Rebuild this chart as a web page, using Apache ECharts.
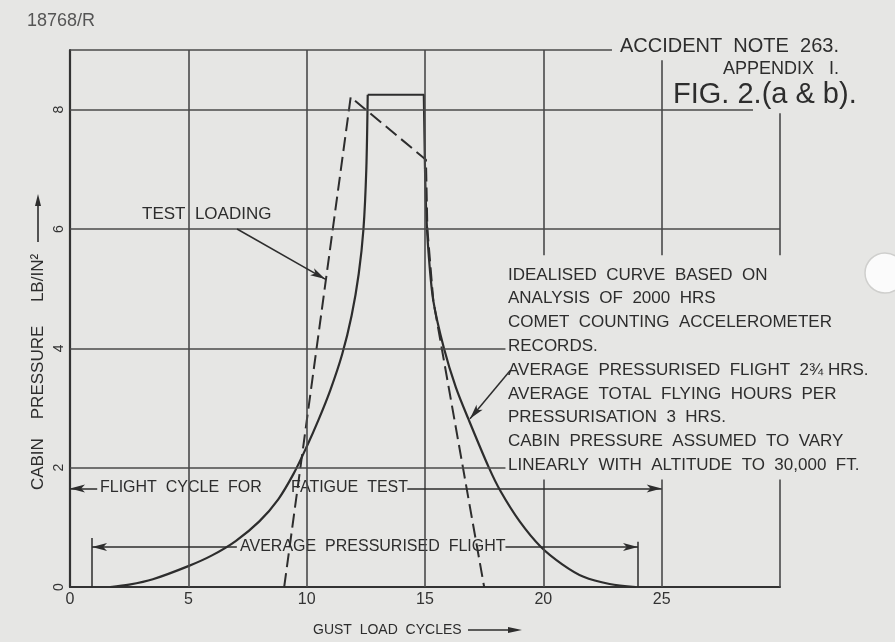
<!DOCTYPE html>
<html>
<head>
<meta charset="utf-8">
<script src="https://cdn.jsdelivr.net/npm/echarts@6/dist/echarts.min.js"></script>
<style>
  html, body { margin: 0; padding: 0; background: #e6e6e4; }
  #chart { width: 895px; height: 642px; }
</style>
</head>
<body>
<div id="chart"></div>
<script>
// Gust load cycles (x) against cabin pressure in lb/in² (y)
const xTicks = [0, 5, 10, 15, 20, 25];
const yTicks = [0, 2, 4, 6, 8];

// Idealised curve from accelerometer records: rising flank, pressurised plateau, falling flank
const idealRise = [
  [1.7, 0], [2.5, 0.04], [3.5, 0.13], [5.0, 0.35], [6.0, 0.53], [7.0, 0.77],
  [8.0, 1.1], [8.8, 1.47], [9.45, 1.9], [10.0, 2.35], [10.5, 2.8], [11.0, 3.3],
  [11.5, 3.9], [11.9, 4.55], [12.2, 5.25], [12.4, 6.0], [12.52, 7.0], [12.58, 8.25]
];
const idealPlateau = [[12.58, 8.25], [14.95, 8.25], [15.0, 7.0]];
const idealFall = [
  [15.0, 7.0], [15.05, 6.3], [15.15, 5.6], [15.35, 4.8], [15.8, 4.0], [16.3, 3.35],
  [16.85, 2.8], [17.7, 2.0], [18.2, 1.6], [19.0, 1.1], [19.9, 0.67], [20.8, 0.38],
  [21.7, 0.17], [22.8, 0.05], [23.9, 0]
];

// Test loading cycle (dashed)
const testLoading = [
  [9.05, 0], [11.86, 8.21], [15.04, 7.16], [15.1, 6.0], [15.35, 4.8], [17.5, 0]
];

// Dimension lines: flight cycle for fatigue test and average pressurised flight
const fatigueCycle = { from: 0, to: 25, level: 1.65 };
const avgFlight = { from: 0.93, to: 24.0, level: 0.67 };

const INK = '#2d2d2d';
const GRID = '#4a4a4a';
const FONT = '"Liberation Sans", Arial, sans-serif';

// Drawing-sheet rulings (segments broken round the notes)
const rulings = [
  [[5, 0], [5, 9]], [[10, 0], [10, 9]], [[15, 0], [15, 9]],
  [[20, 9], [20, 5.56]], [[20, 1.8], [20, 0]],
  [[25, 8.83], [25, 5.56]], [[25, 1.8], [25, 0]],
  [[30, 7.94], [30, 5.56]], [[30, 1.8], [30, 0]],
  [[0, 9], [22.9, 9]], [[0, 8], [28.86, 8]], [[0, 6], [30, 6]],
  [[0, 4], [18.4, 4]], [[0, 2], [18.4, 2]]
];

function seg(a, b, s0, s1) {
  return [
    { coord: a, symbol: s0 || 'none', symbolSize: [6, 15] },
    { coord: b, symbol: s1 || 'none', symbolSize: [6, 15] }
  ];
}

const leaders = [
  // TEST LOADING pointer
  seg([7.06, 6.0], [10.78, 5.16], 'none', 'arrow'),
  // idealised curve pointer
  seg([18.6, 3.63], [16.9, 2.82], 'none', 'arrow'),
  // flight cycle for fatigue test
  seg([fatigueCycle.from, fatigueCycle.level], [1.15, fatigueCycle.level], 'arrow', 'none'),
  seg([14.25, fatigueCycle.level], [fatigueCycle.to, fatigueCycle.level], 'none', 'arrow'),
  // average pressurised flight
  seg([avgFlight.from, 0], [avgFlight.from, 0.82]),
  seg([avgFlight.from, avgFlight.level], [7.05, avgFlight.level], 'arrow', 'none'),
  seg([18.4, avgFlight.level], [avgFlight.to, avgFlight.level], 'none', 'arrow'),
  seg([avgFlight.to, 0], [avgFlight.to, 0.76])
];

const notes = [
  'IDEALISED  CURVE  BASED  ON',
  'ANALYSIS  OF  2000  HRS',
  'COMET  COUNTING  ACCELEROMETER',
  'RECORDS.',
  'AVERAGE  PRESSURISED  FLIGHT  2¾ HRS.',
  'AVERAGE  TOTAL  FLYING  HOURS  PER',
  'PRESSURISATION  3  HRS.',
  'CABIN  PRESSURE  ASSUMED  TO  VARY',
  'LINEARLY  WITH  ALTITUDE  TO  30,000  FT.'
];

function txt(x, y, text, size, style) {
  return {
    type: 'text', x: x, y: y, silent: true,
    style: Object.assign({
      text: text, font: size + 'px ' + FONT, fill: INK,
      align: 'left', verticalAlign: 'middle'
    }, style || {})
  };
}

const chart = echarts.init(document.getElementById('chart'), null, { renderer: 'canvas' });

const curveLine = { color: INK, width: 2.2 };

chart.setOption({
  backgroundColor: '#e6e6e4',
  animation: false,
  grid: { left: 70, right: 115, top: 50, bottom: 55 },
  xAxis: {
    type: 'value', min: 0, max: 30, interval: 5,
    axisLine: { show: true, lineStyle: { color: '#333', width: 2.2 } },
    axisTick: { show: false },
    splitLine: { show: false },
    axisLabel: {
      margin: 5, fontSize: 16, color: '#333', fontFamily: FONT,
      formatter: v => (xTicks.indexOf(v) >= 0 ? String(v) : '')
    }
  },
  yAxis: {
    type: 'value', min: 0, max: 9, interval: 1,
    axisLine: { show: true, lineStyle: { color: '#333', width: 2.2 } },
    axisTick: { show: false },
    splitLine: { show: false },
    axisLabel: {
      margin: 4, fontSize: 14, color: '#333', fontFamily: FONT, rotate: 90,
      formatter: v => (yTicks.indexOf(v) >= 0 ? String(v) : '')
    }
  },
  series: [
    {
      type: 'line', data: [[0, 0]], showSymbol: false, silent: true,
      lineStyle: { width: 0 },
      markLine: {
        silent: true, symbol: 'none', animation: false,
        label: { show: false },
        lineStyle: { color: GRID, width: 1.6, type: 'solid' },
        emphasis: { disabled: true },
        data: rulings.map(r => [{ coord: r[0] }, { coord: r[1] }])
      }
    },
    {
      type: 'line', data: [[0, 0]], showSymbol: false, silent: true,
      lineStyle: { width: 0 },
      markLine: {
        silent: true, animation: false,
        label: { show: false },
        itemStyle: { color: INK },
        lineStyle: { color: INK, width: 1.5, type: 'solid' },
        emphasis: { disabled: true },
        data: leaders
      }
    },
    { type: 'line', data: idealRise, smooth: 0.3, showSymbol: false, lineStyle: curveLine, silent: true },
    { type: 'line', data: idealPlateau, smooth: false, showSymbol: false, lineStyle: curveLine, silent: true },
    { type: 'line', data: idealFall, smooth: 0.3, showSymbol: false, lineStyle: curveLine, silent: true },
    {
      type: 'line', data: testLoading, smooth: false, showSymbol: false, silent: true,
      lineStyle: { color: INK, width: 2, type: [14, 6] }
    }
  ],
  graphic: [
    txt(27, 21, '18768/R', 18, { fill: '#555' }),
    txt(620, 46, 'ACCIDENT  NOTE  263.', 20),
    txt(723, 69, 'APPENDIX   I.', 18),
    txt(673, 95, 'FIG. 2.(a & b).', 29),
    txt(142, 214, 'TEST  LOADING', 17),
    {
      type: 'text', x: 508, y: 263, silent: true,
      style: {
        text: notes.join('\n'), font: '17px ' + FONT, fill: INK,
        lineHeight: 23.8, align: 'left', verticalAlign: 'top'
      }
    },
    txt(100, 488, 'FLIGHT  CYCLE  FOR', 16),
    txt(291, 488, 'FATIGUE  TEST', 16),
    txt(240, 547, 'AVERAGE  PRESSURISED  FLIGHT', 16),
    txt(313, 630, 'GUST  LOAD  CYCLES', 14),
    { type: 'line', silent: true, shape: { x1: 468, y1: 630, x2: 514, y2: 630 }, style: { stroke: INK, lineWidth: 1.6 } },
    { type: 'polygon', silent: true, shape: { points: [[508, 627], [522, 630], [508, 633]] }, style: { fill: INK } },
    {
      type: 'text', x: 38, y: 372, rotation: Math.PI / 2, silent: true,
      style: {
        text: 'CABIN    PRESSURE     LB/IN²', font: '17px ' + FONT, fill: INK,
        align: 'center', verticalAlign: 'middle'
      }
    },
    { type: 'line', silent: true, shape: { x1: 38, y1: 242, x2: 38, y2: 200 }, style: { stroke: INK, lineWidth: 1.6 } },
    { type: 'polygon', silent: true, shape: { points: [[35, 206], [38, 194], [41, 206]] }, style: { fill: INK } },
    // punched filing hole at the sheet edge
    { type: 'circle', silent: true, shape: { cx: 885, cy: 273, r: 20 }, style: { fill: '#fbfbfb', stroke: '#cfcfcd', lineWidth: 1.5 } }
  ]
});
</script>
</body>
</html>
